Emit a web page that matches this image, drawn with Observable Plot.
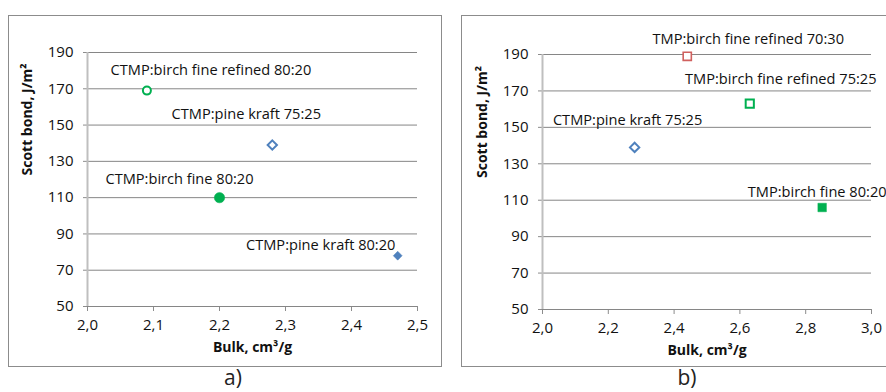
<!DOCTYPE html>
<html>
<head>
<meta charset="utf-8">
<script src="https://cdn.jsdelivr.net/npm/d3@7"></script>
<script src="https://cdn.jsdelivr.net/npm/@observablehq/plot@0.6"></script>
<style>
  html, body { margin: 0; padding: 0; background: #fff; }
  body { width: 886px; height: 392px; position: relative; overflow: hidden; font-family: "Open Sans", sans-serif; }
  .panel { position: absolute; top: 15px; height: 350px; border: 1px solid #8c8c8c; background: #fff; }
  .panel svg { overflow: visible; display: block; }
  .cap { position: absolute; top: 367px; font-size: 21px; line-height: 1; color: #222; transform: translateX(-50%); }
</style>
</head>
<body>
<div id="pa" class="panel" style="left:8px; width:432px;"></div>
<div id="pb" class="panel" style="left:461px; width:440px;"></div>
<div class="cap" id="capA" style="left:233px;"></div>
<div class="cap" id="capB" style="left:687px;"></div>
<script>
// ---- data ----
const aLabels = ["CTMP:birch fine refined 80:20", "CTMP:pine kraft 75:25", "CTMP:birch fine 80:20", "CTMP:pine kraft 80:20"];
const aBulk = [2.09, 2.28, 2.20, 2.47];
const aScott = [169, 139, 110, 78];

const bLabels = ["TMP:birch fine refined 70:30", "TMP:birch fine refined 75:25", "CTMP:pine kraft 75:25", "TMP:birch fine 80:20"];
const bBulk = [2.44, 2.63, 2.28, 2.85];
const bScott = [189, 163, 139, 106];

const xTicksA = [2.0, 2.1, 2.2, 2.3, 2.4, 2.5];
const xTicksB = [2.0, 2.2, 2.4, 2.6, 2.8, 3.0];
const yTicks = [50, 70, 90, 110, 130, 150, 170, 190];

const yTitle = "Scott bond, J/m²";
const xTitle = "Bulk, cm³/g";
const captions = ["a)", "b)"];

// ---- styles ----
const GREEN = "#00b050", BLUE = "#4f81bd", RED = "#d0605e";
const FONT = "Open Sans";
const LABEL_SIZE = 14.6;
const styleA = [
  {symbol: "circle", fill: "white", stroke: GREEN, r: 4, sw: 2, dx: 64, dy: -20},
  {symbol: "diamond2", fill: "white", stroke: BLUE, r: 4.2, sw: 2, dx: -26, dy: -31},
  {symbol: "circle", fill: GREEN, stroke: GREEN, r: 5.2, sw: 0.5, dx: -40, dy: -18},
  {symbol: "diamond2", fill: BLUE, stroke: BLUE, r: 4, sw: 0.5, dx: -77, dy: -10}
];
const styleB = [
  {symbol: "square", fill: "white", stroke: RED, r: 4.6, sw: 1.6, dx: 61, dy: -17},
  {symbol: "square", fill: "white", stroke: GREEN, r: 4.6, sw: 2, dx: 31, dy: -24},
  {symbol: "diamond2", fill: "white", stroke: BLUE, r: 4.2, sw: 2, dx: -7, dy: -27},
  {symbol: "square", fill: GREEN, stroke: GREEN, r: 4.8, sw: 0.5, dx: -5, dy: -15}
];

const fmt = d => d.toFixed(1).replace(".", ",");

function panel({labels, bulk, scott, xTicks, styles, width, margins}) {
  const [mt, mr, mb, ml] = margins;
  const pts = labels.map((t, i) => ({label: t, x: bulk[i], y: scott[i]}));
  const marks = [
    Plot.ruleY(yTicks, {stroke: "#868686", strokeWidth: 1}),
    Plot.ruleX([xTicks[0]], {stroke: "#bfbfbf", strokeWidth: 2})
  ];
  pts.forEach((p, i) => {
    const s = styles[i];
    marks.push(Plot.dot([p], {x: "x", y: "y", symbol: () => s.symbol, r: s.r, fill: s.fill, stroke: s.stroke, strokeWidth: s.sw}));
    marks.push(Plot.text([p], {x: "x", y: "y", text: "label", dx: s.dx, dy: s.dy, fontSize: LABEL_SIZE, fill: "#111"}));
  });
  marks.push(Plot.text([yTitle], {frameAnchor: "left", rotate: -90, dx: -60, dy: -4, fontSize: 14, fontWeight: "bold", fill: "#111"}));
  marks.push(Plot.text([xTitle], {frameAnchor: "bottom", dy: 45, fontSize: 14, fontWeight: "bold", fill: "#111"}));
  return Plot.plot({
    width, height: 350,
    marginTop: mt, marginRight: mr, marginBottom: mb, marginLeft: ml,
    style: {fontFamily: FONT, fontSize: "15px", color: "#111", background: "white", overflow: "visible"},
    x: {domain: [xTicks[0], xTicks[xTicks.length - 1]], ticks: xTicks, tickFormat: fmt, tickSize: 5, tickPadding: 8, label: null},
    y: {domain: [yTicks[0], yTicks[yTicks.length - 1]], ticks: yTicks, tickSize: 4, tickPadding: 10, label: null},
    marks
  });
}

const a = panel({labels: aLabels, bulk: aBulk, scott: aScott, xTicks: xTicksA, styles: styleA, width: 432, margins: [36, 24, 60, 78]});
const b = panel({labels: bLabels, bulk: bBulk, scott: bScott, xTicks: xTicksB, styles: styleB, width: 424, margins: [38, 15, 57, 80]});
document.getElementById("pa").appendChild(a);
document.getElementById("pb").appendChild(b);
document.getElementById("capA").textContent = captions[0];
document.getElementById("capB").textContent = captions[1];

// grey tick marks / axis lines
document.querySelectorAll(".panel svg g[aria-label*='axis'] line, .panel svg g[aria-label*='axis'] path").forEach(el => {
  el.setAttribute("stroke", "#8c8c8c");
  el.style.stroke = "#8c8c8c";
});
</script>
</body>
</html>
